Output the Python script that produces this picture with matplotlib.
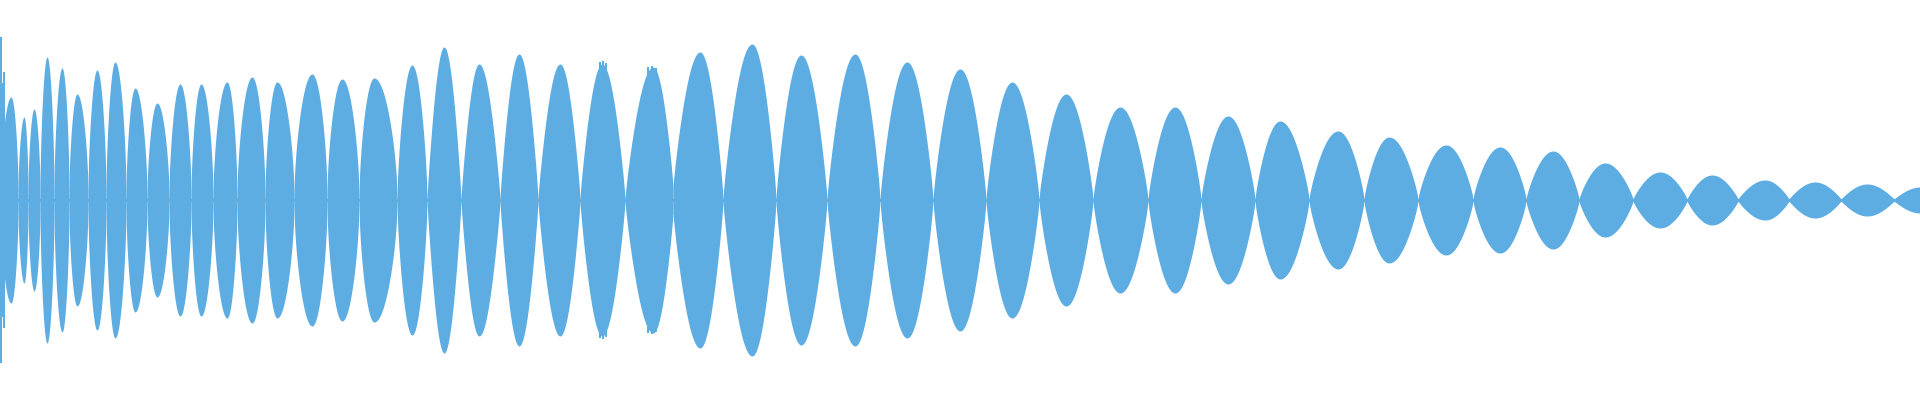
import numpy as np
import matplotlib
matplotlib.use("Agg")
import matplotlib.pyplot as plt

# waveform read as lobes: node (near-zero) positions, peak position and peak level
nodes = [0, 18, 28, 40, 54, 69, 88, 106, 126, 147, 169, 191, 213, 237, 265, 294,
         327, 359, 397, 427, 461, 500, 538, 580, 625, 673, 723, 776, 827, 880,
         933, 986, 1039, 1093, 1148, 1201, 1255, 1309, 1364, 1418, 1473, 1526,
         1579, 1633, 1687, 1738, 1789, 1841, 1894, 1946]
node_floor = [0.05, 0.05, 0.05, 0.05, 0.05, 0.05, 0.04, 0.04, 0.04, 0.03, 0.03,
              0.03, 0.03, 0.03, 0.03, 0.03, 0.03, 0.02, 0.02, 0.01, 0.01, 0.01,
              0.01, 0.01, 0.01, 0.065, 0.01, 0.01, 0.005, 0.005, 0.005, 0.005,
              0.005, 0.005, 0.005, 0.005, 0.005, 0.005, 0.005, 0.005, 0.005,
              0.005, 0.005, 0.005, 0.005, 0.005, 0.005, 0.005, 0.005, 0.005]
peak_x = [11, 24, 34, 47, 62, 77, 97, 115, 135, 157, 180, 201, 227, 252, 277,
          312, 342, 374, 412, 444, 479, 519, 560, 602, 653, 700, 752, 801, 855,
          907, 960, 1012, 1066, 1120, 1175, 1228, 1280, 1338, 1389, 1446, 1500,
          1553, 1605, 1660, 1712, 1765, 1815, 1867, 1920]
peak_amp = [0.515, 0.415, 0.455, 0.715, 0.66, 0.53, 0.65, 0.69, 0.56, 0.485,
            0.58, 0.58, 0.59, 0.615, 0.59, 0.63, 0.605, 0.61, 0.675, 0.765,
            0.68, 0.73, 0.68, 0.68, 0.665, 0.74, 0.78, 0.725, 0.73, 0.69,
            0.655, 0.59, 0.53, 0.465, 0.465, 0.42, 0.395, 0.345, 0.315, 0.275,
            0.265, 0.245, 0.185, 0.14, 0.125, 0.10, 0.09, 0.08, 0.065]

# thin transient spikes at the very start and the jagged tops near 600-660
spike_x = [0.5, 1.5, 2.5, 3.5, 5.0, 600, 603, 606, 648, 652, 656]
spike_amp = [0.815, 0.55, 0.585, 0.64, 0.25, 0.69, 0.695, 0.685, 0.665, 0.67, 0.66]

color = "#5DADE2"

fig = plt.figure(figsize=(19.2, 4), dpi=100)
ax = fig.add_axes([0, 0, 1, 1])

for i in range(len(peak_x)):
    x0, x1, xp = nodes[i], nodes[i + 1], peak_x[i]
    f0, f1, a = node_floor[i], node_floor[i + 1], peak_amp[i]
    # lobes in the first part are fuller than the later ones
    p = np.interp(xp, [0, 400, 440, 800, 1500, 1920], [0.6, 0.6, 0.9, 0.85, 0.8, 0.95])
    xl = np.linspace(x0, xp, 40)
    xr = np.linspace(xp, x1, 40)
    el = f0 + (a - f0) * np.sin(np.pi / 2 * (xl - x0) / (xp - x0)) ** p
    er = f1 + (a - f1) * np.sin(np.pi / 2 * (x1 - xr) / (x1 - xp)) ** p
    x = np.concatenate([xl, xr])
    env = np.concatenate([el, er])
    ax.fill_between(x, -env, env, color=color, linewidth=0, antialiased=False)

ax.vlines(spike_x, [-a for a in spike_amp], spike_amp, color=color,
          linewidth=1.2, antialiased=False)
ax.axhline(0, color=color, linewidth=1, antialiased=False)

ax.set_xlim(0, 1920)
ax.set_ylim(-1, 1)
ax.axis("off")

fig.savefig("out.png", dpi=100, facecolor="white")
